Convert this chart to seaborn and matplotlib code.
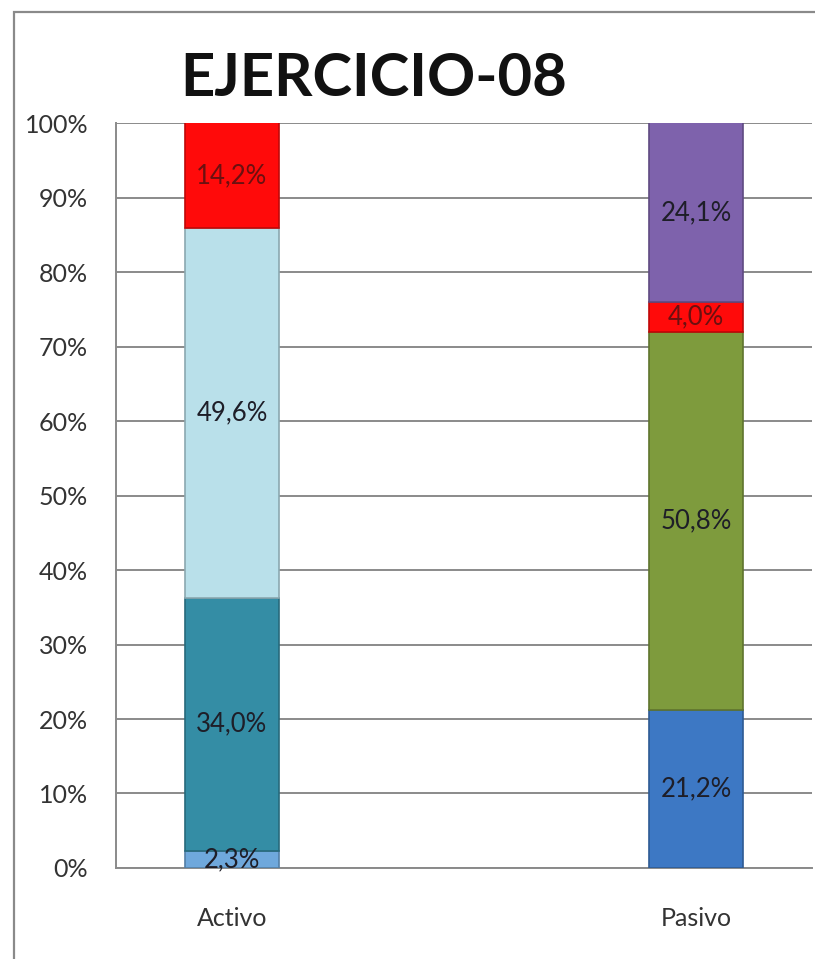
import matplotlib
matplotlib.use("Agg")
import matplotlib.pyplot as plt
from matplotlib.patches import Rectangle
from matplotlib.ticker import PercentFormatter
import seaborn as sns

# categories (the middle one is an empty column, as in the original sheet)
categories = ["Activo", "", "Pasivo"]

# stacked segments, bottom to top
activo_values = [2.3, 34.0, 49.6, 14.2]
activo_colors = ["#6FA8DC", "#348DA5", "#B9E0EA", "#FF0A0A"]
pasivo_values = [21.2, 50.8, 4.0, 24.1]
pasivo_colors = ["#3D78C4", "#7E9B3D", "#FF0A0A", "#7E62AC"]

title = "EJERCICIO-08"
yticks = list(range(0, 101, 10))


def darker(c, f=0.75):
    r, g, b = matplotlib.colors.to_rgb(c)
    return (r * f, g * f, b * f)


def fmt(v):
    return f"{v:.1f}".replace(".", ",") + "%"


sns.set_style("white")
plt.rcParams["font.family"] = ["Lato", "DejaVu Sans"]

fig = plt.figure(figsize=(8.15, 9.59), dpi=100)
ax = fig.add_axes([0.1423, 0.0949, 0.854, 0.7768])

for cat, values, colors in [("Activo", activo_values, activo_colors),
                            ("Pasivo", pasivo_values, pasivo_colors)]:
    bottom = 0
    for v, c in zip(values, colors):
        sns.barplot(x=[cat], y=[v], order=categories, bottom=bottom,
                    color=c, saturation=1, width=0.405,
                    edgecolor=darker(c), linewidth=1.2, ax=ax, zorder=3)
        txt_color = "#6B1010" if c == "#FF0A0A" else "#1E1E28"
        ax.bar_label(ax.containers[-1], labels=[fmt(v)], label_type="center",
                     fontsize=18.5, color=txt_color, zorder=4)
        bottom += v

ax.set_ylim(0, 100)
ax.set_xlim(-0.5, 2.5)
ax.set_yticks(yticks)
ax.yaxis.set_major_formatter(PercentFormatter(decimals=0))
ax.set_xlabel("")
ax.set_ylabel("")

ax.grid(axis="y", color="#8A8A8A", linewidth=1.4, zorder=0)
ax.set_axisbelow(True)
for s in ["top", "right"]:
    ax.spines[s].set_visible(False)
for s in ["left", "bottom"]:
    ax.spines[s].set_color("#8A8A8A")
    ax.spines[s].set_linewidth(1.4)

ax.tick_params(axis="y", direction="out", length=8, width=1.4, color="#8A8A8A",
               labelsize=18, labelcolor="#333333", pad=12)
ax.tick_params(axis="x", which="major", length=0, labelsize=18,
               labelcolor="#333333", pad=28)
ax.set_xticks([-0.5, 0.5, 1.5, 2.5], minor=True)
ax.tick_params(axis="x", which="minor", direction="out", length=8, width=1.4,
               color="#8A8A8A")

fig.text(0.459, 0.918, title, ha="center", va="center", fontsize=43,
         fontweight="bold", color="#111111")

# outer chart border
fig.add_artist(Rectangle((0.017, -0.05), 1.1, 1.037, transform=fig.transFigure,
                         fill=False, edgecolor="#8A8A8A", linewidth=1.6))

fig.savefig("out.png", dpi=100)
